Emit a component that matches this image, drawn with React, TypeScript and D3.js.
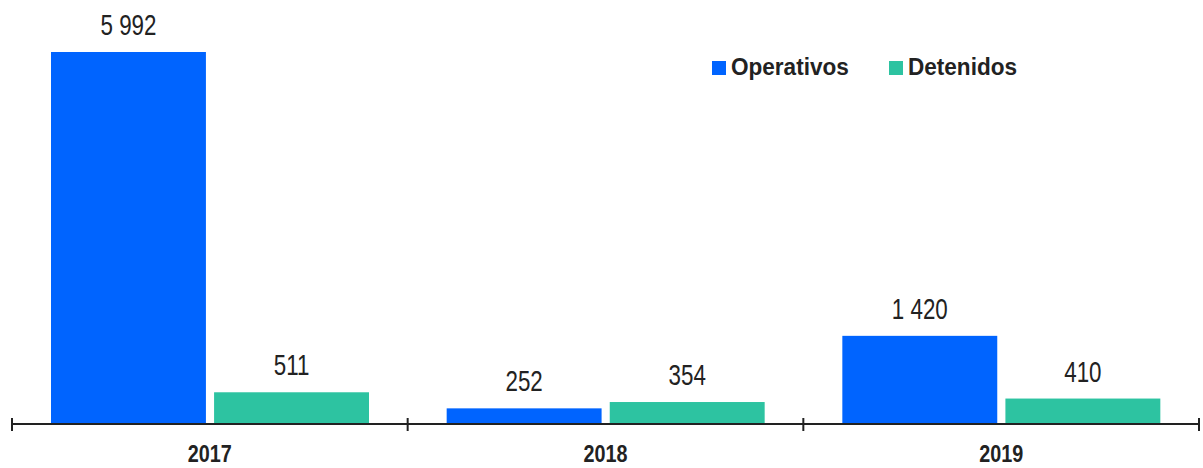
import * as d3 from 'd3';
import * as React from 'react';

const years = ['2017', '2018', '2019'];
const seriesNames = ['Operativos', 'Detenidos'];
const operativos = [5992, 252, 1420];
const detenidos = [511, 354, 410];

const colors = ['#0064ff', '#2dc3a1'];
const W = 1203;
const H = 468;
const baseY = 424;
const font = '"Liberation Sans", Arial, sans-serif';

const fmt = (v: number) => d3.format(',')(v).replace(/,/g, ' ');

// condensed text: Liberation Sans squeezed horizontally
const Label = (props: { x: number; y: number; sx: number; size: number; bold?: boolean; anchor?: string; children: string }) => (
    <text
        transform={`translate(${props.x},${props.y}) scale(${props.sx},1)`}
        textAnchor={props.anchor || 'middle'}
        fontFamily={font}
        fontWeight={props.bold ? 'bold' : 'normal'}
        fontSize={props.size}
        fill="#222"
    >{props.children}</text>
);

export default function App() {
    const x0 = d3.scaleBand<string>().domain(years).range([12, 1199]);
    const x1 = d3.scaleBand<string>()
        .domain(seriesNames)
        .range([39, 357])
        .paddingInner(0.05);
    const y = d3.scaleLinear().domain([0, 5992]).range([baseY, 52]);

    const rows = years.map((yr, i) => ({ yr, values: [operativos[i], detenidos[i]] }));
    const ticks = [...years.map(yr => x0(yr) as number), 1199];

    return (
        <svg width={W} height={H} style={{ position: 'absolute', left: 0, top: 0, background: '#fff' }}>
            {rows.map(r => (
                <g key={r.yr} transform={`translate(${x0(r.yr)},0)`}>
                    {r.values.map((v, j) => {
                        const bx = x1(seriesNames[j]) as number;
                        return (
                            <g key={j}>
                                <rect x={bx} y={y(v)} width={x1.bandwidth()} height={baseY - y(v)} fill={colors[j]} />
                                <Label x={bx + x1.bandwidth() / 2} y={y(v) - 17} sx={0.77} size={29}>{fmt(v)}</Label>
                            </g>
                        );
                    })}
                    <Label x={x0.bandwidth() / 2} y={462} sx={0.86} size={23} bold>{r.yr}</Label>
                </g>
            ))}
            <line x1={12} x2={1199} y1={baseY} y2={baseY} stroke="#222" strokeWidth={2} />
            {ticks.map((t, i) => (
                <line key={i} x1={t} x2={t} y1={baseY - 6} y2={baseY + 7} stroke="#222" strokeWidth={2} />
            ))}
            <g>
                {seriesNames.map((s, i) => {
                    const lx = [712, 889][i];
                    return (
                        <g key={s}>
                            <rect x={lx} y={61} width={14} height={14} fill={colors[i]} />
                            <Label x={lx + 19} y={75} sx={0.96} size={23.5} bold anchor="start">{s}</Label>
                        </g>
                    );
                })}
            </g>
        </svg>
    );
}
